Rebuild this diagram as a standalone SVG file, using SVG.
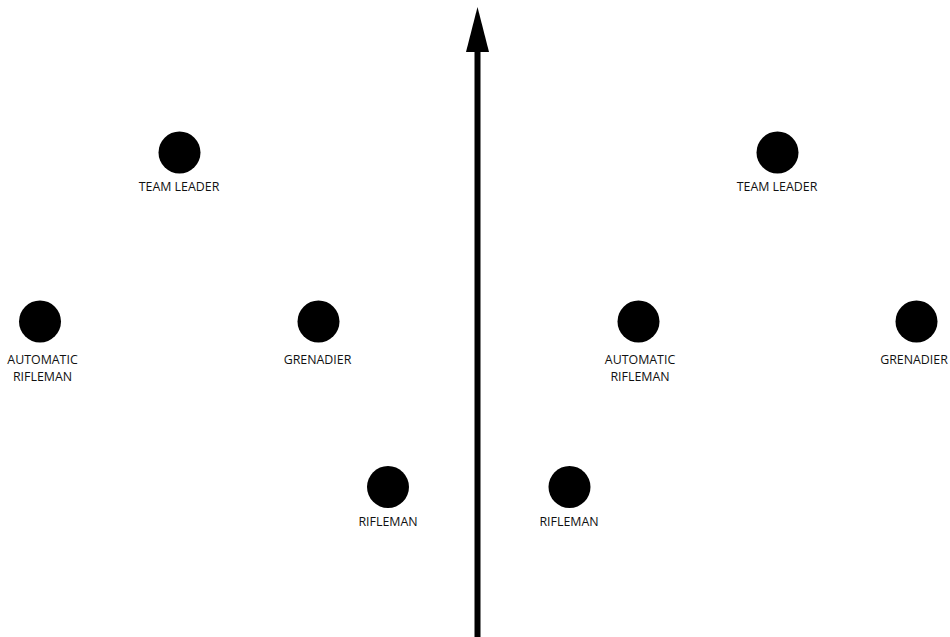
<svg xmlns="http://www.w3.org/2000/svg" width="950" height="637" viewBox="0 0 950 637">
<style>
.dot{fill:#000}
.lbl{font-family:"Open Sans","Liberation Sans",sans-serif;font-size:12.4px;fill:#111;text-anchor:middle}
</style>
<rect width="950" height="637" fill="#fff"/>
<g id="connectors">
<line x1="477.5" y1="637" x2="477.5" y2="50" stroke="#000" stroke-width="6"/>
<polygon points="477.5,7 466,52 489,52" fill="#000"/>
</g>
<g id="team-leader-left"><circle class="dot" cx="179.5" cy="152.5" r="21"/><text class="lbl" x="179" y="191">TEAM LEADER</text></g>
<g id="auto-rifleman-left"><circle class="dot" cx="40" cy="321.5" r="21"/><text class="lbl" x="42.5" y="364">AUTOMATIC</text><text class="lbl" x="42.5" y="381">RIFLEMAN</text></g>
<g id="grenadier-left"><circle class="dot" cx="318.5" cy="321.5" r="21"/><text class="lbl" x="317.5" y="364">GRENADIER</text></g>
<g id="rifleman-left"><circle class="dot" cx="388" cy="487" r="21"/><text class="lbl" x="388" y="526">RIFLEMAN</text></g>
<g id="team-leader-right"><circle class="dot" cx="777.5" cy="152.5" r="21"/><text class="lbl" x="777" y="191">TEAM LEADER</text></g>
<g id="auto-rifleman-right"><circle class="dot" cx="638.5" cy="321.5" r="21"/><text class="lbl" x="640" y="364">AUTOMATIC</text><text class="lbl" x="640" y="381">RIFLEMAN</text></g>
<g id="grenadier-right"><circle class="dot" cx="916.5" cy="321.5" r="21"/><text class="lbl" x="914" y="364">GRENADIER</text></g>
<g id="rifleman-right"><circle class="dot" cx="569.5" cy="487" r="21"/><text class="lbl" x="569" y="526">RIFLEMAN</text></g>
</svg>
